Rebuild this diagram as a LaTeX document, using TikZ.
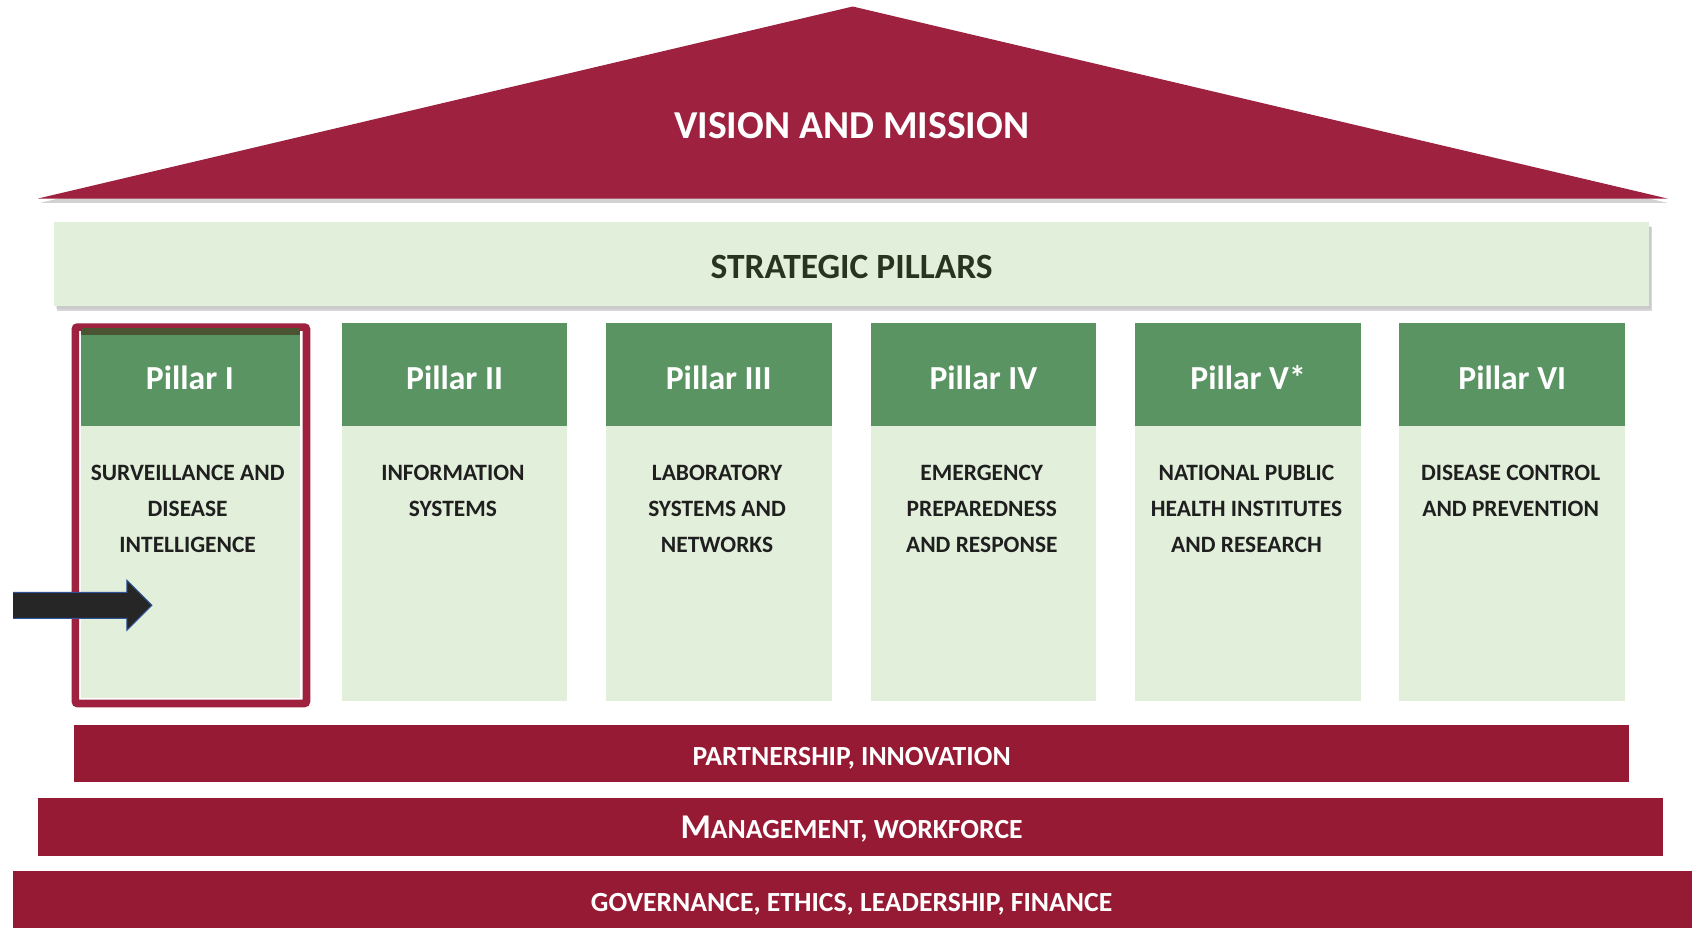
\documentclass[tikz,border=0pt]{standalone}
\usepackage{fontspec}
\setmainfont{Carlito}
\definecolor{roofred}{RGB}{158,33,64}
\definecolor{bandred}{RGB}{150,26,52}
\definecolor{lightgreen}{RGB}{226,239,218}
\definecolor{headgreen}{RGB}{91,148,99}
\definecolor{darkolive}{RGB}{74,84,50}
\definecolor{stratink}{RGB}{40,52,32}
\definecolor{arrowink}{RGB}{38,38,38}
\definecolor{arrowedge}{RGB}{47,85,151}
\tikzset{
  x=1pt, y=-1pt,
  bandtext/.style={text=white, font=\bfseries\fontsize{25.5}{28}\selectfont, inner sep=0pt, text depth=0pt},
  headtext/.style={text=white, font=\bfseries\fontsize{31}{34}\selectfont, inner sep=0pt},
  bodytext/.style={text=black!88, font=\bfseries\fontsize{21.6}{33}\selectfont, inner sep=0pt, align=center, anchor=north},
}
\begin{document}
\begin{tikzpicture}
\useasboundingbox (0,0) rectangle (1568,855);
% roof shadow
\fill[black!35, opacity=0.5] (37,187) -- (786,10) -- (1537,187) -- cycle;
\fill[roofred] (35,183) -- (786,6) -- (1537,183) -- cycle;
\node[text=white, font=\bfseries\fontsize{36.5}{40}\selectfont, inner sep=0pt] (vision) at (785,116) {VISION AND MISSION};
% strategic band
\fill[black!40, opacity=0.4] (53,209) rectangle (1523,287);
\fill[black!30, opacity=0.3] (52,208) rectangle (1522,285);
\fill[lightgreen] (50,205) rectangle (1520,282);
\node[text=stratink, font=\bfseries\fontsize{32.7}{36}\selectfont, inner sep=0pt] (strat) at (785,246) {STRATEGIC PILLARS};
% pillar I highlighted
\draw[roofred, line width=7pt, rounded corners=2pt] (69.5,301.5) rectangle (282.5,648.5);
\fill[lightgreen] (75,393) rectangle (277,643);
\fill[darkolive] (75,302) rectangle (277,309);
\fill[headgreen] (75,309) rectangle (277,393);
\node[headtext] (p1) at (175,348) {Pillar I};
\node[bodytext] (b1) at (173,428.5) {SURVEILLANCE AND\\DISEASE\\INTELLIGENCE};
% other pillars
\foreach \cx/\nm/\lbl/\txt in {
  419/p2/{Pillar II}/{INFORMATION\\SYSTEMS},
  662.5/p3/{Pillar III}/{LABORATORY\\SYSTEMS AND\\NETWORKS},
  906.5/p4/{Pillar IV}/{EMERGENCY\\PREPAREDNESS\\AND RESPONSE},
  1150.5/p5/{Pillar V*}/{NATIONAL PUBLIC\\HEALTH INSTITUTES\\AND RESEARCH},
  1394/p6/{Pillar VI}/{DISEASE CONTROL\\AND PREVENTION}}{
  \fill[lightgreen] (\cx-104,393) rectangle (\cx+104,646);
  \fill[headgreen] (\cx-104,298) rectangle (\cx+104,393);
  \node[headtext] (\nm) at (\cx,348) {\lbl};
  \node[bodytext] (\nm b) at (\cx-1.5,428.5) {\txt};
}
% arrow
\draw[arrowedge, line width=1pt, fill=arrowink]
  (12,546) -- (117,546) -- (117,535) -- (140,558) -- (117,581) -- (117,570) -- (12,570);
% bottom bands
\fill[bandred] (68,668) rectangle (1502,721);
\node[bandtext] (partner) at (785,697) {PARTNERSHIP, INNOVATION};
\fill[bandred] (35,736) rectangle (1533,789);
\node[bandtext] (manage) at (785,762.5) {{\fontsize{32}{34}\selectfont M}ANAGEMENT, WORKFORCE};
\fill[bandred] (12,803) rectangle (1560,855);
\node[bandtext] (govern) at (785,832) {GOVERNANCE, ETHICS, LEADERSHIP, FINANCE};
\end{tikzpicture}
\end{document}
